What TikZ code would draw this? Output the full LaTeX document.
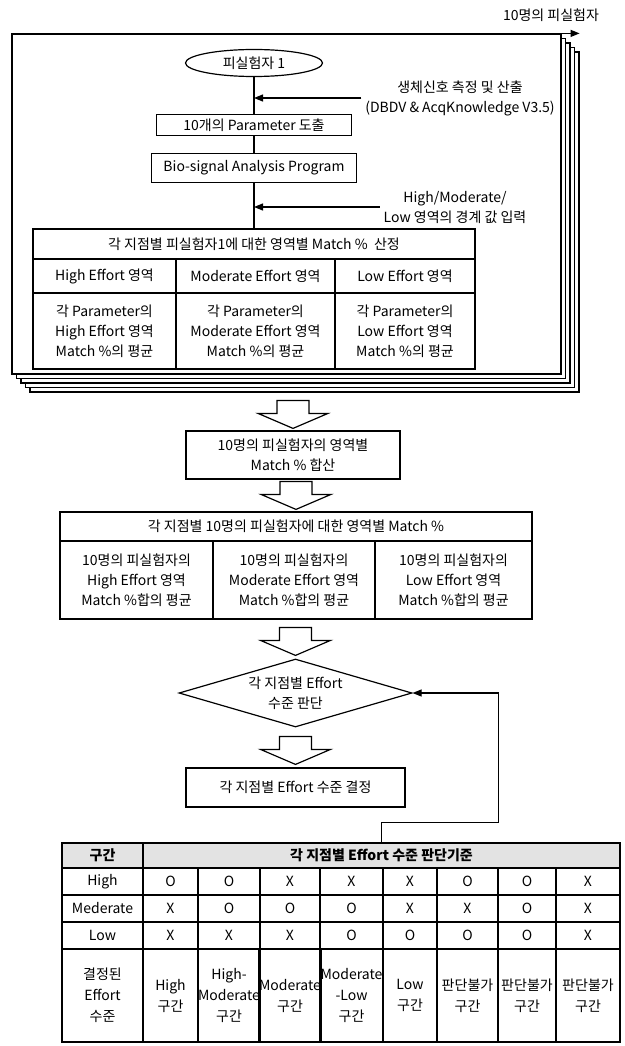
\documentclass[tikz,border=0pt]{standalone}
\usepackage{fontspec}
\setmainfont{Noto Sans CJK KR}
\usepackage{tikz}
\usetikzlibrary{positioning,arrows.meta,shapes.geometric}

\newcommand{\blockdown}[1]{%
  \draw[blk] (#1) -- ++(-35,-15) -- ++(19,0) -- ++(0,-13) -- ++(32,0)
    -- ++(0,13) -- ++(19,0) -- cycle;}

\begin{document}
\begin{tikzpicture}[x=1pt, y=-1pt, font=\fontsize{14}{20}\selectfont, line width=1.2pt,
  box/.style={draw, fill=white, align=center, inner sep=2pt},
  cell/.style={draw, align=center, inner sep=0pt},
  hcell/.style={cell, fill=gray!22, font=\fontsize{14}{20}\selectfont\bfseries},
  sheet/.style={draw, fill=white, minimum width=549pt, minimum height=340pt, inner sep=0pt},
  arr/.style={-{Triangle[length=9pt, width=7pt]}},
  blk/.style={draw, fill=white, line join=miter}]
  \useasboundingbox (0,0) rectangle (624,1046);

  % ten sheets, one per subject
  \foreach \k in {4,3,2,1} {\node[sheet] (sheet\k) at (286.5+4.5*\k,204+4.5*\k) {};}
  \node[sheet] (sheet0) at (286.5,204) {};
  \node (ten) at (551,15) {10명의 피실험자};
  \draw[arr] (sheet0.north east) -- (sheet4.east |- sheet0.north);

  \node[draw, ellipse, minimum width=137pt, minimum height=27pt, inner sep=0pt] (subj) at (254,63) {피실험자 1};
  \node[box, minimum width=195pt, minimum height=21pt] (param) at (254,125) {10개의 Parameter 도출};
  \node[box, minimum width=205pt, minimum height=29pt] (prog) at (254,168) {Bio-signal Analysis Program};
  \node[align=center] (meas) at (460,98) {생체신호 측정 및 산출\\(DBDV \& AcqKnowledge V3.5)};
  \node[align=center] (bound) at (455,207) {High/Moderate/\\Low 영역의 경계 값 입력};

  % match table, subject 1
  \node[cell, minimum width=442pt, minimum height=30pt] (t1head) at (254,244) {각 지점별 피실험자1에 대한 영역별 Match \%\ \ 산정};
  \foreach \x/\w/\n/\lvl in {104.5/143pt/a/High, 255.5/159pt/b/Moderate, 405/140pt/c/Low} {
    \node[cell, minimum width=\w, minimum height=34pt] (t1\n) at (\x,276) {\lvl\ Effort 영역};
    \node[cell, minimum width=\w, minimum height=76pt] (t1\n2) at (\x,331) {각 Parameter의\\\lvl\ Effort 영역\\Match \%의 평균};
  }
  \draw (subj) -- (param);
  \draw (param) -- (prog);
  \draw (prog) -- (t1head);
  \draw[arr] (meas.west) -- (meas.west -| subj.south);
  \draw[arr] (bound.west) -- (bound.west -| prog.south);

  % all subjects
  \node[box, minimum width=214pt, minimum height=48pt] (sum) at (293,455) {10명의 피실험자의 영역별\\Match \% 합산};
  \node[cell, minimum width=472pt, minimum height=29pt] (t2head) at (296,526.5) {각 지점별 10명의 피실험자에 대한 영역별 Match \%};
  \foreach \x/\w/\n/\lvl in {136.5/153pt/a/High, 294/162pt/b/Moderate, 453.5/157pt/c/Low} {
    \node[cell, minimum width=\w, minimum height=78pt] (t2\n) at (\x,580) {10명의 피실험자의\\\lvl\ Effort 영역\\Match \%합의 평균};
  }
  \node[draw, diamond, aspect=3.4, minimum width=233pt, minimum height=68pt, inner sep=0pt, align=center] (judge) at (295.5,693) {각 지점별 Effort\\수준 판단};
  \node[box, minimum width=219pt, minimum height=39pt] (decide) at (295.5,787.5) {각 지점별 Effort 수준 결정};
  \blockdown{[yshift=2pt]sum.north}
  \blockdown{[yshift=2pt]t2head.north}
  \blockdown{[yshift=3pt]judge.north}
  \blockdown{[yshift=3pt]decide.north}

  % decision table
  \node[hcell, minimum width=81pt, minimum height=25pt] (t3key) at (102.5,855.5) {구간};
  \node[hcell, minimum width=477pt, minimum height=25pt] (t3head) at (381.5,855.5) {각 지점별 Effort 수준 판단기준};
  \foreach \y/\h/\lab [count=\i] in {881.5/27pt/High, 908.5/27pt/Mederate, 935.5/27pt/Low, 995.5/93pt/{결정된\\Effort\\수준}} {
    \node[cell, minimum width=81pt, minimum height=\h, font=\fontsize{14}{21}\selectfont] (lev\i) at (102.5,\y) {\lab};
  }
  \foreach \x/\w/\hv/\mv/\lv/\rv [count=\i] in {
      170.5/55pt/O/X/X/{High\\구간},
      229/62pt/O/O/X/{High-\\Moderate\\구간},
      290/60pt/X/O/X/{Moderate\\구간},
      351.5/63pt/X/O/O/{Moderate\\-Low\\구간},
      410/54pt/X/X/O/{Low\\구간},
      467.5/61pt/O/X/O/{판단불가\\구간},
      527/58pt/O/O/O/{판단불가\\구간},
      588/64pt/X/X/X/{판단불가\\구간}} {
    \node[cell, minimum width=\w, minimum height=27pt] (hi\i) at (\x,881.5) {\hv};
    \node[cell, minimum width=\w, minimum height=27pt] (mo\i) at (\x,908.5) {\mv};
    \node[cell, minimum width=\w, minimum height=27pt] (lo\i) at (\x,935.5) {\lv};
    \node[cell, minimum width=\w, minimum height=93pt, font=\fontsize{14}{21}\selectfont] (res\i) at (\x,995.5) {\rv};
  }
  \draw[arr] (t3head.north) -- ++(0,-20) -| ([xshift=86pt]judge.east) -- (judge.east);
\end{tikzpicture}
\end{document}
